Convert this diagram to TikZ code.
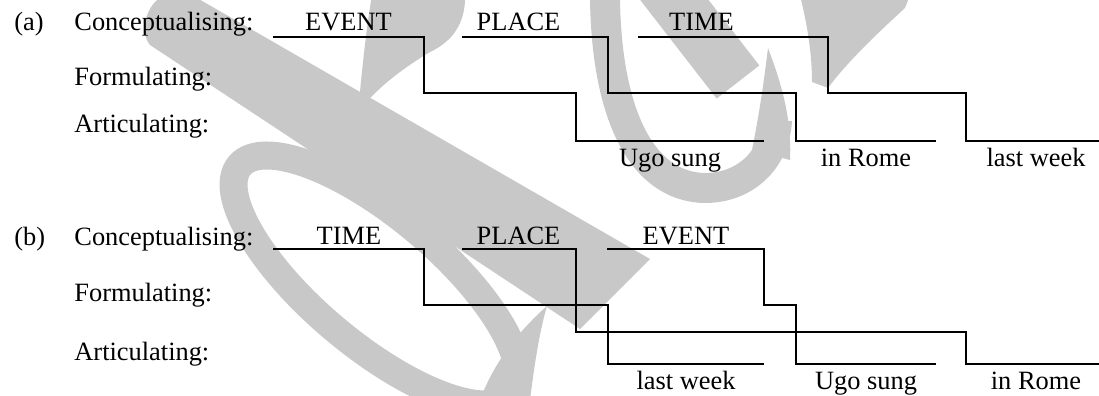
\documentclass[tikz,border=0pt]{standalone}
\usepackage{fontspec}
\setmainfont{Liberation Serif}
\usepackage{xcolor}
\usetikzlibrary{positioning}
\definecolor{wmgrey}{RGB}{200,200,200}
\tikzset{%
	stage/.style = {anchor=base west, inner sep=0pt, font=\fontsize{13.2}{16}\selectfont},
	chunk/.style = {anchor=base, inner sep=0pt, font=\fontsize{13.2}{16}\selectfont},
	stair/.style = {line width=1.1pt},
	wm/.style    = {wmgrey, line cap=butt},
}

\begin{document}
\begin{tikzpicture}[x=0.5pt,y=-0.5pt]
	\useasboundingbox (0,0) rectangle (1099,396);
	
	% watermark in the background
	\begin{scope}
		\clip (0,0) rectangle (1099,396);
		\fill[wm] (197,-2) -- (650,259) -- (580,329) -- (150,45) .. controls (138,30) and (148,5) .. (160,-2) -- cycle;
		\draw[wm, line width=14pt, rotate around={-40:(376,280)}] (376,280) ellipse (178 and 64);
		\fill[wm] (372,-5) -- (465,-5) .. controls (466,30) and (445,45) .. (430,52) .. controls (400,70) and (375,90) .. (358,112) .. controls (362,70) and (366,30) .. cycle;
		\fill[wm] (480,400) -- (530,400) .. controls (535,360) and (540,330) .. (547,306) .. controls (520,330) and (495,360) .. cycle;
		\draw[wm, line width=15pt] (605,-20) .. controls (603,110) and (640,187) .. (705,188) .. controls (745,188) and (775,160) .. (777,120);
		\draw[wm, line width=27pt] (655,-25) -- (738,82);
		\fill[wm] (752,150) .. controls (760,110) and (764,80) .. (768,48) .. controls (782,85) and (792,120) .. (790,160) -- cycle;
		\fill[wm] (800,-5) -- (910,-5) -- (905,8) .. controls (870,40) and (845,65) .. (828,88) -- (812,82) .. controls (812,50) and (806,20) .. cycle;
	\end{scope}
	
	% (a)
	\node[stage] (a-tag) at (14,31) {(a)};
	\node[stage] (a-con) at (74,31) {Conceptualising:};
	\node[stage] (a-for) at (74,85) {Formulating:};
	\node[stage] (a-art) at (74,132) {Articulating:};
	
	\draw[stair] (273,36.7) -| (424,92.7) -| (576,140.7) -- (764,140.7);
	\draw[stair] (462,36.7) -| (608,92.7) -| (796,140.7) -- (936,140.7);
	\draw[stair] (638,36.7) -| (828,92.7) -| (966,140.7) -- (1099,140.7);
	
	\node[chunk] (a-event) at (348.5,31) {EVENT};
	\node[chunk] (a-place) at (518.5,31) {PLACE};
	\node[chunk] (a-time)  at (701.5,31) {TIME};
	\node[chunk] (a-ugo)   at (670,166) {Ugo sung};
	\node[chunk] (a-rome)  at (866,166) {in Rome};
	\node[chunk] (a-week)  at (1036,166) {last week};
	
	% (b)
	\node[stage] (b-tag) at (14,245) {(b)};
	\node[stage] (b-con) at (74,245) {Conceptualising:};
	\node[stage] (b-for) at (74,301) {Formulating:};
	\node[stage] (b-art) at (74,360) {Articulating:};
	
	\draw[stair] (273,249.3) -| (424,305) -| (608,364.3) -- (764,364.3);
	\draw[stair] (462,249.3) -| (576,332) -| (966,364.3) -- (1099,364.3);
	\draw[stair] (607,249.3) -| (764,305) -| (796,364.3) -- (936,364.3);
	
	\node[chunk] (b-time)  at (349,244) {TIME};
	\node[chunk] (b-place) at (518.5,244) {PLACE};
	\node[chunk] (b-event) at (686,244) {EVENT};
	\node[chunk] (b-week)  at (686,389) {last week};
	\node[chunk] (b-ugo)   at (866,389) {Ugo sung};
	\node[chunk] (b-rome)  at (1036,389) {in Rome};
\end{tikzpicture}
\end{document}
